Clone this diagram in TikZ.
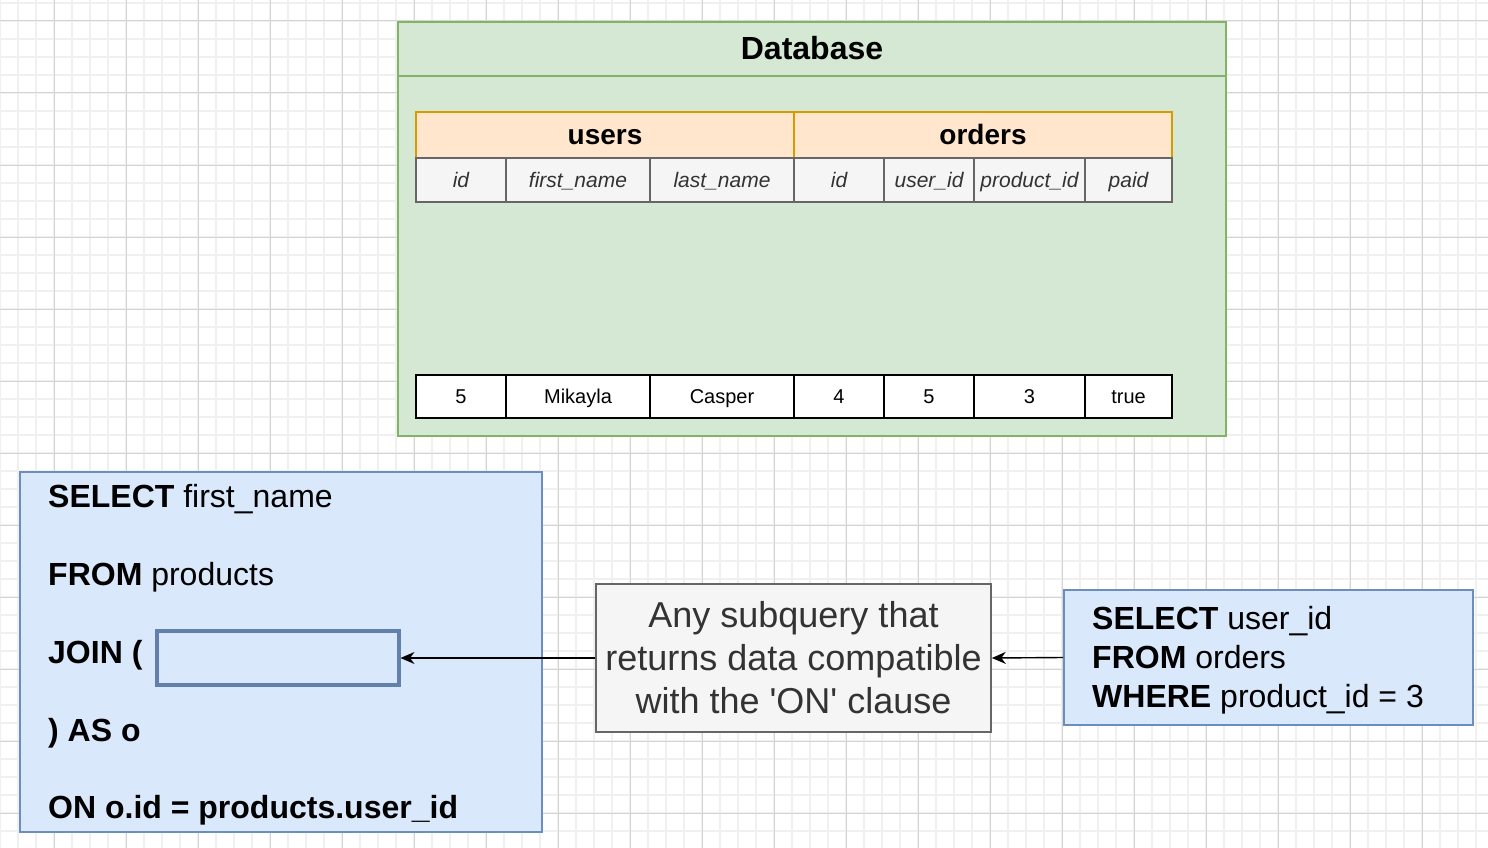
\documentclass[tikz,border=0pt]{standalone}
\usepackage{fontspec}
\setmainfont{Liberation Sans}[Ligatures=TeXOff]
\usetikzlibrary{arrows.meta}

\definecolor{dbfill}{HTML}{D5E8D4}
\definecolor{dbdraw}{HTML}{82B366}
\definecolor{hdrfill}{HTML}{FFE6CC}
\definecolor{hdrdraw}{HTML}{D79B00}
\definecolor{colfill}{HTML}{F5F5F5}
\definecolor{coldraw}{HTML}{666666}
\definecolor{qfill}{HTML}{DAE8FC}
\definecolor{qdraw}{HTML}{6C8EBF}
\definecolor{darktext}{HTML}{333333}
\definecolor{minorline}{HTML}{F0F0F0}
\definecolor{majorline}{HTML}{D4D4D4}

\begin{document}
\begin{tikzpicture}[x=1pt,y=-1pt,
  minorgrid/.style={minorline,line width=1.2pt},
  majorgrid/.style={majorline,line width=1pt},
  panel/.style={rectangle,inner sep=0pt,line width=1.6pt},
  dbpanel/.style={panel,fill=dbfill,draw=dbdraw},
  qpanel/.style={panel,fill=qfill,draw=qdraw},
  notepanel/.style={panel,fill=colfill,draw=coldraw},
  tabhead/.style={rectangle,inner sep=0pt,fill=hdrfill,draw=hdrdraw,line width=1.4pt,
    minimum height=46pt,font=\fontsize{28}{33}\selectfont\bfseries,
    text height=20pt,text depth=0pt},
  colhead/.style={rectangle,inner sep=0pt,fill=colfill,draw=coldraw,line width=1.6pt,
    minimum height=44pt,text=darktext,font=\fontsize{21}{25}\selectfont\itshape,
    text height=15pt,text depth=0pt},
  datacell/.style={rectangle,inner sep=0pt,fill=white,draw=black,line width=1.6pt,
    minimum height=43pt,font=\fontsize{20}{24}\selectfont,
    text height=14.3pt,text depth=0pt},
  sqltext/.style={inner sep=0pt,anchor=base west,font=\fontsize{32}{38}\selectfont},
  notetext/.style={inner sep=0pt,anchor=base,text=darktext,font=\fontsize{36}{43}\selectfont},
  conn/.style={line width=1.4pt,-{Stealth[length=14pt,width=12pt,inset=4.5pt]}}
]
\useasboundingbox (0,0) rectangle (1488,848);
\fill[white] (0,0) rectangle (1488,848);

% background grid: fine lines every 18pt, heavier lines every 72pt
\foreach \x in {0,18,...,1488} \draw[minorgrid] (\x,0) -- (\x,848);
\foreach \y in {3,21,...,848} \draw[minorgrid] (0,\y) -- (1488,\y);
\foreach \x in {54,126,...,1488} \draw[majorgrid] (\x,0) -- (\x,848);
\foreach \y in {21,93,...,848} \draw[majorgrid] (0,\y) -- (1488,\y);

% database container
\node[dbpanel,minimum width=828pt,minimum height=414pt] (db) at (812,229) {};
\draw[dbdraw,line width=1.6pt] (db.west |- 0,76) coordinate (dbl) -- (db.east |- 0,76) coordinate (dbr);
\node[inner sep=0pt,anchor=base,font=\fontsize{32}{38}\selectfont\bfseries] (dbtitle) at (812,60) {Database};

% table headers
\node[tabhead,minimum width=378pt] (users) at (605,135) {users};
\node[tabhead,minimum width=378pt] (orders) at (983,135) {orders};

% column names
\node[colhead,minimum width=90pt]  (h1) at (461,180)    {id};
\node[colhead,minimum width=144pt] (h2) at (578,180)    {first\_name};
\node[colhead,minimum width=144pt] (h3) at (722,180)    {last\_name};
\node[colhead,minimum width=90pt]  (h4) at (839,180)    {id};
\node[colhead,minimum width=90pt]  (h5) at (929,180)    {user\_id};
\node[colhead,minimum width=111pt] (h6) at (1029.5,180) {product\_id};
\node[colhead,minimum width=87pt]  (h7) at (1128.5,180) {paid};

% joined row
\node[datacell,minimum width=90pt]  (d1) at (461,396.5)    {5};
\node[datacell,minimum width=144pt] (d2) at (578,396.5)    {Mikayla};
\node[datacell,minimum width=144pt] (d3) at (722,396.5)    {Casper};
\node[datacell,minimum width=90pt]  (d4) at (839,396.5)    {4};
\node[datacell,minimum width=90pt]  (d5) at (929,396.5)    {5};
\node[datacell,minimum width=111pt] (d6) at (1029.5,396.5) {3};
\node[datacell,minimum width=87pt]  (d7) at (1128.5,396.5) {true};

% outer query
\node[qpanel,minimum width=522pt,minimum height=360pt] (outer) at (281,652) {};
\node[sqltext] (q1) at (48,507) {\textbf{SELECT} first\_name};
\node[sqltext] (q2) at (48,585) {\textbf{FROM} products};
\node[sqltext] (q3) at (48,663) {\textbf{JOIN (}};
\node[sqltext] (q4) at (48,741) {\textbf{) AS o}};
\node[sqltext] (q5) at (48,818) {\textbf{ON o.id = products.user\_id}};
\node[rectangle,inner sep=0pt,fill=qfill,draw=qdraw!90!black,line width=4pt,
  minimum width=242pt,minimum height=54pt] (slot) at (277.5,658) {};

% explanation
\node[notepanel,minimum width=395pt,minimum height=148pt] (note) at (793.5,658) {};
\node[notetext] (n1) at (793.5,627) {Any subquery that};
\node[notetext] (n2) at (793.5,670) {returns data compatible};
\node[notetext] (n3) at (793.5,713) {with the 'ON' clause};

% subquery
\node[qpanel,minimum width=409pt,minimum height=135pt] (sub) at (1268.5,657.5) {};
\node[sqltext] (s1) at (1092,629) {\textbf{SELECT} user\_id};
\node[sqltext] (s2) at (1092,668) {\textbf{FROM} orders};
\node[sqltext] (s3) at (1092,707) {\textbf{WHERE} product\_id = 3};

% connectors
\draw[conn] (note.west) -- (slot.east);
\draw[conn] (sub.west) -- (note.east);
\end{tikzpicture}
\end{document}
